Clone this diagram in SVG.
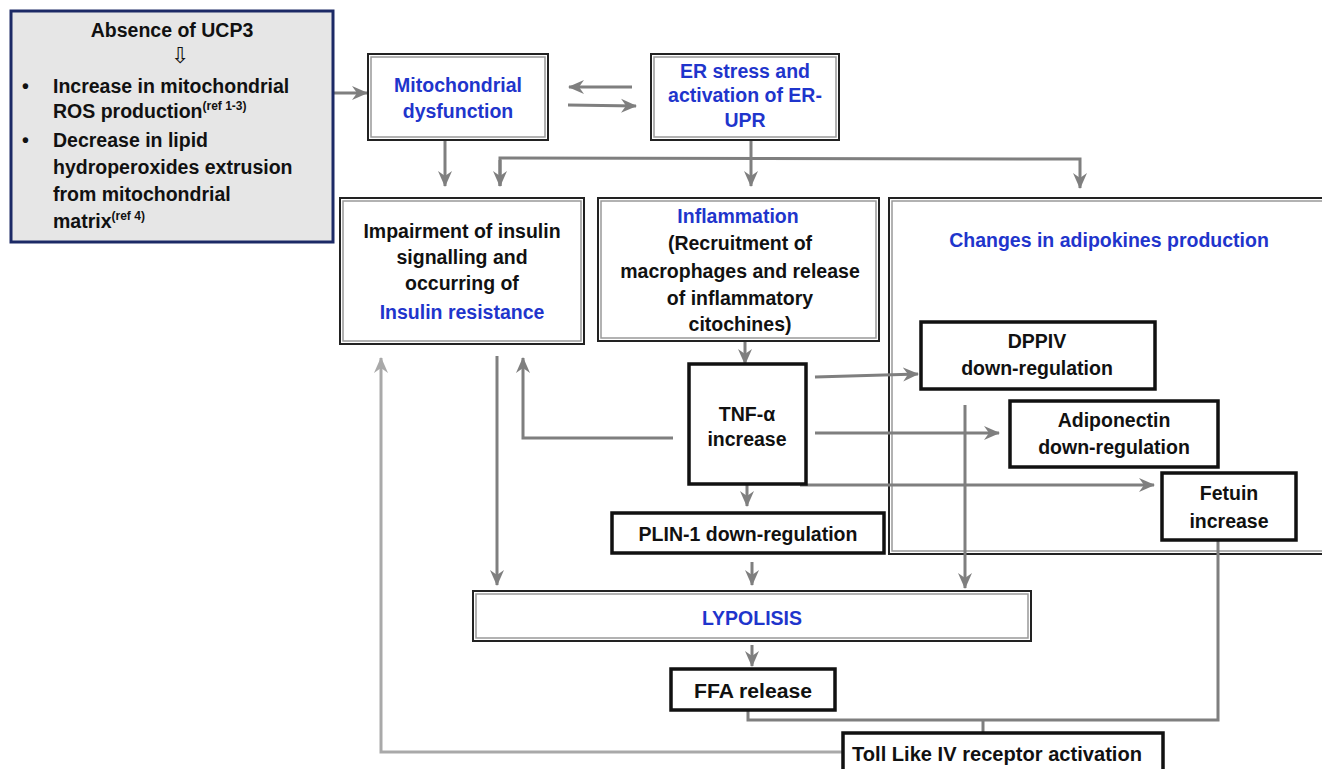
<svg xmlns="http://www.w3.org/2000/svg" width="1322" height="769" viewBox="0 0 1322 769">
<defs>
<style>
text{font-family:"Liberation Sans",Arial,sans-serif;font-weight:bold;font-size:19.5px;fill:#111;text-anchor:middle}
.blue{fill:#1f35cc}
.l{text-anchor:start}
.box2o{fill:#fff;stroke:#222;stroke-width:2}
.box2i{fill:none;stroke:#999;stroke-width:1.5}
.thick{fill:#fff;stroke:#111;stroke-width:3.5}
.c{fill:none;stroke:#7f7f7f;stroke-width:3}
.cl{fill:none;stroke:#a9a9a9;stroke-width:3}
</style>
<marker id="ah" markerUnits="userSpaceOnUse" markerWidth="16" markerHeight="16" viewBox="0 0 16 16" refX="15" refY="8" orient="auto">
<path d="M0,1 L16,8 L0,15 L5,8 z" fill="#7f7f7f"/>
</marker>
<marker id="ahl" markerUnits="userSpaceOnUse" markerWidth="16" markerHeight="16" viewBox="0 0 16 16" refX="15" refY="8" orient="auto">
<path d="M0,1 L16,8 L0,15 L5,8 z" fill="#a9a9a9"/>
</marker>
</defs>
<rect width="1322" height="769" fill="#fff"/>

<g id="adipokines">
<rect x="889" y="198" width="440" height="356" style="fill:none;stroke:#222;stroke-width:2"/>
<rect class="box2i" x="892" y="201" width="440" height="350"/>
<text class="blue" x="1109" y="247">Changes in adipokines production</text>
</g>

<g id="connectors">
<line class="c" x1="334" y1="93" x2="367" y2="93" marker-end="url(#ah)"/>
<line class="c" x1="632" y1="87" x2="569" y2="87" marker-end="url(#ah)"/>
<line class="c" x1="568" y1="105" x2="636" y2="106" marker-end="url(#ah)"/>
<line class="c" x1="445" y1="140" x2="445" y2="186" marker-end="url(#ah)"/>
<line class="c" x1="751" y1="140" x2="751" y2="186" marker-end="url(#ah)"/>
<polyline class="c" points="500,186 500,158 1080,159 1080,188" marker-end="url(#ah)"/>
<line class="c" x1="500" y1="160" x2="500" y2="186" marker-end="url(#ah)"/>
<line class="c" x1="745" y1="341" x2="745" y2="364" marker-end="url(#ah)"/>
<polyline class="c" points="673,438 523,438 523,358" marker-end="url(#ah)"/>
<line class="c" x1="815" y1="377" x2="918" y2="374" marker-end="url(#ah)"/>
<line class="c" x1="815" y1="433" x2="999" y2="433" marker-end="url(#ah)"/>
<line class="c" x1="800" y1="485" x2="1154" y2="485" marker-end="url(#ah)"/>
<line class="c" x1="965" y1="405" x2="965" y2="588" marker-end="url(#ah)"/>
<line class="c" x1="747" y1="485" x2="747" y2="506" marker-end="url(#ah)"/>
<line class="c" x1="752" y1="562" x2="752" y2="585" marker-end="url(#ah)"/>
<line class="c" x1="497" y1="356" x2="497" y2="585" marker-end="url(#ah)"/>
<line class="c" x1="752" y1="645" x2="752" y2="666" marker-end="url(#ah)"/>
<polyline class="c" points="748,710 748,720 1218,720 1218,541"/>
<line class="c" x1="983" y1="720" x2="983" y2="733"/>
<polyline class="cl" points="843,752 381,752 381,358" marker-end="url(#ahl)"/>
</g>

<g id="ucp3">
<rect x="11" y="11" width="322" height="231" fill="#e6e6e6" stroke="#1c2a66" stroke-width="3"/>
<text x="172" y="37">Absence of UCP3</text>
<text x="180" y="63" style="font-family:'DejaVu Sans',sans-serif;font-weight:normal;font-size:22px;fill:#111">⇩</text>
<text class="l" x="22" y="93">•</text>
<text class="l" x="53" y="93">Increase in mitochondrial</text>
<text class="l" x="53" y="118">ROS production<tspan font-size="12" dy="-8">(ref 1-3)</tspan></text>
<text class="l" x="22" y="147">•</text>
<text class="l" x="53" y="147">Decrease in lipid</text>
<text class="l" x="53" y="174">hydroperoxides extrusion</text>
<text class="l" x="53" y="201">from mitochondrial</text>
<text class="l" x="53" y="228">matrix<tspan font-size="12" dy="-8">(ref 4)</tspan></text>
</g>

<g id="mito">
<rect class="box2o" x="368" y="54" width="180" height="86"/>
<rect class="box2i" x="371" y="57" width="174" height="80"/>
<text class="blue" x="458" y="92">Mitochondrial</text>
<text class="blue" x="458" y="118">dysfunction</text>
</g>

<g id="er">
<rect class="box2o" x="651" y="54" width="188" height="86"/>
<rect class="box2i" x="654" y="57" width="182" height="80"/>
<text class="blue" x="745" y="78">ER stress and</text>
<text class="blue" x="745" y="102">activation of ER-</text>
<text class="blue" x="745" y="127">UPR</text>
</g>

<g id="impairment">
<rect class="box2o" x="340" y="198" width="244" height="146"/>
<rect class="box2i" x="343" y="201" width="238" height="140"/>
<text x="462" y="238">Impairment of insulin</text>
<text x="462" y="264">signalling and</text>
<text x="462" y="290">occurring of</text>
<text class="blue" x="462" y="319">Insulin resistance</text>
</g>

<g id="inflammation">
<rect class="box2o" x="598" y="198" width="281" height="143"/>
<rect class="box2i" x="601" y="201" width="275" height="137"/>
<text class="blue" x="738" y="223">Inflammation</text>
<text x="740" y="250">(Recruitment of</text>
<text x="740" y="278">macrophages and release</text>
<text x="740" y="305">of inflammatory</text>
<text x="740" y="331">citochines)</text>
</g>

<g id="tnf">
<rect class="thick" x="689" y="364" width="117" height="120"/>
<text x="747" y="421">TNF-α</text>
<text x="747" y="446">increase</text>
</g>

<g id="dppiv">
<rect class="thick" x="921" y="322" width="234" height="67"/>
<text x="1037" y="348">DPPIV</text>
<text x="1037" y="375">down-regulation</text>
</g>

<g id="adiponectin">
<rect class="thick" x="1010" y="401" width="208" height="66"/>
<text x="1114" y="427">Adiponectin</text>
<text x="1114" y="454">down-regulation</text>
</g>

<g id="fetuin">
<rect class="thick" x="1162" y="473" width="134" height="67"/>
<text x="1229" y="500">Fetuin</text>
<text x="1229" y="528">increase</text>
</g>

<g id="plin">
<rect class="thick" x="612" y="513" width="272" height="40"/>
<text x="748" y="541">PLIN-1 down-regulation</text>
</g>

<g id="lypolisis">
<rect class="box2o" x="473" y="591" width="558" height="50"/>
<rect class="box2i" x="476" y="594" width="552" height="44"/>
<text class="blue" x="752" y="625">LYPOLISIS</text>
</g>

<g id="ffa">
<rect class="thick" x="671" y="669" width="164" height="41"/>
<text x="753" y="698" textLength="118" lengthAdjust="spacingAndGlyphs">FFA release</text>
</g>

<g id="toll">
<rect class="thick" x="843" y="733" width="320" height="40"/>
<text x="997" y="761" textLength="290" lengthAdjust="spacingAndGlyphs">Toll Like IV receptor activation</text>
</g>
</svg>
